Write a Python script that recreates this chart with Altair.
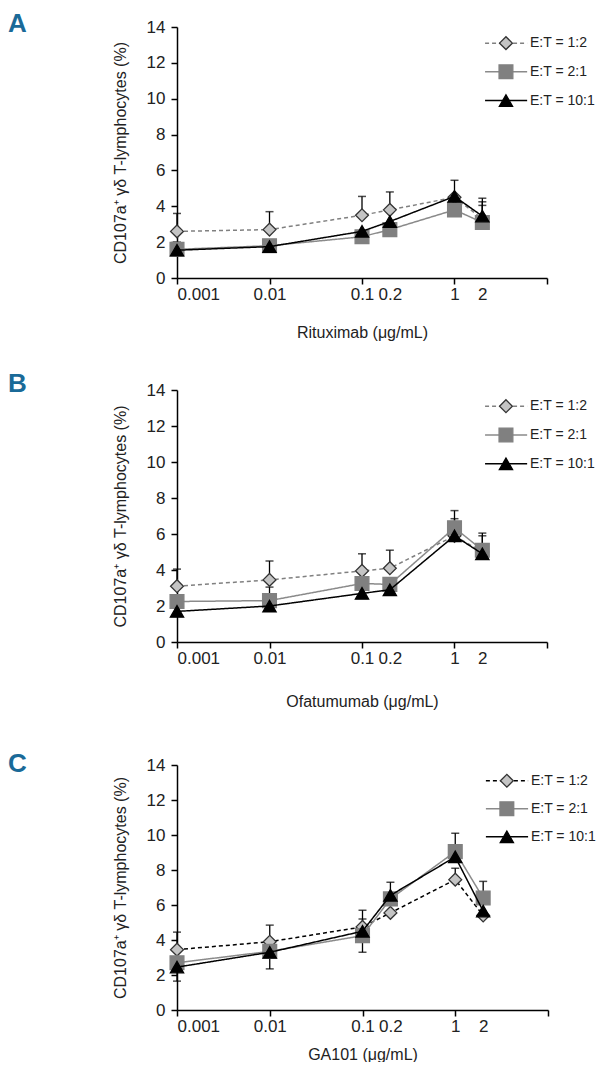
import altair as alt
import pandas as pd

# ---------------- data ----------------
CONC = [0.001, 0.01, 0.1, 0.2, 1, 2]
SERIES = ["E:T = 1:2", "E:T = 2:1", "E:T = 10:1"]
X_TITLES = ["Rituximab (μg/mL)", "Ofatumumab (μg/mL)", "GA101 (μg/mL)"]
LETTERS = ["A", "B", "C"]
Y_TITLE = "CD107a⁺ γδ T-lymphocytes (%)"
X_TICKS = [0.001, 0.01, 0.1, 0.2, 1, 2, 10]
Y_TICKS = [0, 2, 4, 6, 8, 10, 12, 14]

# Panel A (Rituximab)
A_12 = [2.6, 2.7, 3.5, 3.8, 4.5, 3.3]
A_21 = [1.6, 1.8, 2.3, 2.7, 3.8, 3.1]
A_101 = [1.55, 1.75, 2.6, 3.15, 4.55, 3.45]
A_12_hi = [3.6, 3.7, 4.55, 4.8, None, 4.45]
A_21_hi = [2.0, None, None, None, None, 4.05]
A_101_hi = [None, None, None, None, 5.45, 4.25]
A_12_lo = [None] * 6
A_21_lo = [None] * 6
A_101_lo = [None] * 6

# Panel B (Ofatumumab)
B_12 = [3.1, 3.45, 3.95, 4.1, 5.9, 5.0]
B_21 = [2.25, 2.3, 3.25, 3.2, 6.35, 5.1]
B_101 = [1.7, 2.0, 2.7, 2.9, 5.9, 4.9]
B_12_hi = [4.05, 4.5, 4.9, 5.1, 7.3, 6.05]
B_21_hi = [None, None, None, None, 6.85, 5.9]
B_101_hi = [None, 3.05, None, None, None, None]
B_12_lo = [None] * 6
B_21_lo = [None] * 6
B_101_lo = [None] * 6

# Panel C (GA101)
C_12 = [3.45, 3.9, 4.75, 5.55, 7.45, 5.4]
C_21 = [2.7, 3.35, 4.25, 6.35, 9.05, 6.4]
C_101 = [2.45, 3.3, 4.5, 6.55, 8.75, 5.65]
C_12_hi = [4.45, 4.85, 5.7, None, 8.1, None]
C_21_hi = [None, None, 5.2, None, 10.1, 7.35]
C_101_hi = [None, None, None, 7.3, None, None]
C_12_lo = [None] * 6
C_21_lo = [None, 2.35, 3.3, None, None, None]
C_101_lo = [1.65, None, None, None, None, None]

# legend layout (data units of each panel)
LEG_ROWS = [13.1, 11.5, 9.9]
LEG_LINE_X = [2.14, 6.1]
LEG_MARK_X = 3.6
LEG_TEXT_X = 6.55

PANELS = [
    dict(vals=[A_12, A_21, A_101], hi=[A_12_hi, A_21_hi, A_101_hi], lo=[A_12_lo, A_21_lo, A_101_lo]),
    dict(vals=[B_12, B_21, B_101], hi=[B_12_hi, B_21_hi, B_101_hi], lo=[B_12_lo, B_21_lo, B_101_lo]),
    dict(vals=[C_12, C_21, C_101], hi=[C_12_hi, C_21_hi, C_101_hi], lo=[C_12_lo, C_21_lo, C_101_lo]),
]

# ---------------- style ----------------
FONT = "Liberation Sans, Arial, sans-serif"
LINE_COLORS = [["#808080", "#8a8a8a", "#000000"],
               ["#808080", "#8a8a8a", "#000000"],
               ["#000000", "#8a8a8a", "#000000"]]
DASHES = [[4, 3], [1, 0], [1, 0]]
SHAPES = ["diamond", "square", "triangle-up"]
FILLS = ["#c4c4c4", "#808080", "#000000"]
STROKES = ["#333333", "#808080", "#000000"]
SIZES = [165, 190, 175]
TITLE_PAD_X = [22, 27, 12]
LETTER_Y = [-16, -19, -14]
W, H = [370, 370, 371], [251, 252, 245]


def panel(i):
    p = PANELS[i]
    x = alt.X("conc:Q",
              scale=alt.Scale(type="log", domain=[0.001, 10], nice=False),
              axis=alt.Axis(values=X_TICKS, title=X_TITLES[i], grid=False,
                            labelExpr="datum.value == 10 ? '' : format(datum.value, '~g')",
                            tickOpacity={"condition": {"test": "datum.value == 0.2 || datum.value == 2", "value": 0}, "value": 1},
                            tickSize=6, labelPadding=2, titlePadding=TITLE_PAD_X[i]))
    y_axis = alt.Axis(values=Y_TICKS, title=Y_TITLE, grid=False, tickSize=6,
                      labelPadding=6, titlePadding=18)
    yscale = alt.Scale(domain=[0, 14], nice=False)

    rows, err = [], []
    for s, name in enumerate(SERIES):
        for j, c in enumerate(CONC):
            rows.append(dict(series=name, conc=c, value=p["vals"][s][j]))
            err.append(dict(series=name, conc=c, value=p["vals"][s][j],
                            hi=p["hi"][s][j], lo=p["lo"][s][j]))
    df = pd.DataFrame(rows)
    de = pd.DataFrame(err)

    base_e = alt.Chart(de).encode(x=x)
    layers = [
        base_e.mark_rule(color="black", strokeWidth=1.3).encode(
            y=alt.Y("value:Q", scale=yscale, axis=y_axis), y2="hi:Q"
        ).transform_filter("isValid(datum.hi)"),
        base_e.mark_tick(orient="horizontal", color="black", size=8, thickness=1.5).encode(
            y=alt.Y("hi:Q", scale=yscale, axis=y_axis)
        ).transform_filter("isValid(datum.hi)"),
        base_e.mark_rule(color="black", strokeWidth=1.3).encode(
            y=alt.Y("lo:Q", scale=yscale, axis=y_axis), y2="value:Q"
        ).transform_filter("isValid(datum.lo)"),
        base_e.mark_tick(orient="horizontal", color="black", size=8, thickness=1.5).encode(
            y=alt.Y("lo:Q", scale=yscale, axis=y_axis)
        ).transform_filter("isValid(datum.lo)"),
    ]

    leg_line = pd.DataFrame([dict(series=n, conc=cx, value=LEG_ROWS[k])
                             for k, n in enumerate(SERIES) for cx in LEG_LINE_X])
    leg_pt = pd.DataFrame([dict(series=n, conc=LEG_MARK_X, value=LEG_ROWS[k])
                           for k, n in enumerate(SERIES)])
    leg_tx = pd.DataFrame([dict(series=n, conc=LEG_TEXT_X, value=LEG_ROWS[k])
                           for k, n in enumerate(SERIES)])

    y = alt.Y("value:Q", scale=yscale, axis=y_axis)
    for s, name in enumerate(SERIES):
        sub = df[df.series == name]
        line_kw = dict(color=LINE_COLORS[i][s], strokeWidth=1.5, strokeDash=DASHES[s])
        pt_kw = dict(shape=SHAPES[s], filled=True, fill=FILLS[s], stroke=STROKES[s],
                     strokeWidth=1.3, size=SIZES[s], opacity=1, fillOpacity=1)
        layers.append(alt.Chart(sub).mark_line(**line_kw).encode(x=x, y=y))
        layers.append(alt.Chart(sub).mark_point(**pt_kw).encode(x=x, y=y))
        layers.append(alt.Chart(leg_line[leg_line.series == name]).mark_line(**line_kw).encode(x=x, y=y))
        layers.append(alt.Chart(leg_pt[leg_pt.series == name]).mark_point(**pt_kw).encode(x=x, y=y))
    layers.append(alt.Chart(leg_tx).mark_text(align="left", baseline="middle", fontSize=14,
                                               font=FONT, color="#222222").encode(
        x=x, y=y, text="series:N"))
    # panel letter
    layers.append(alt.Chart(pd.DataFrame({"letter": [LETTERS[i]]})).mark_text(
        align="left", baseline="top", fontSize=26, font=FONT, fontWeight="bold",
        color="#1a6a98").encode(text="letter:N", x=alt.value(-169), y=alt.value(LETTER_Y[i])))

    return alt.layer(*layers).properties(width=W[i], height=H[i])


chart = alt.vconcat(
    alt.vconcat(panel(0), panel(1), spacing=31),
    panel(2), spacing=42,
).properties(
    padding={"left": 8, "top": 11, "right": 0, "bottom": 0}
).configure_view(stroke=None).configure_axis(
    domainColor="black", domainWidth=1.5, tickColor="black", tickWidth=1.5,
    labelFont=FONT, labelFontSize=17, labelColor="#222222",
    titleFont=FONT, titleFontSize=16, titleFontWeight="normal", titleColor="#222222",
)

chart.save("out.html", embed_options={"renderer": "svg", "actions": False})
